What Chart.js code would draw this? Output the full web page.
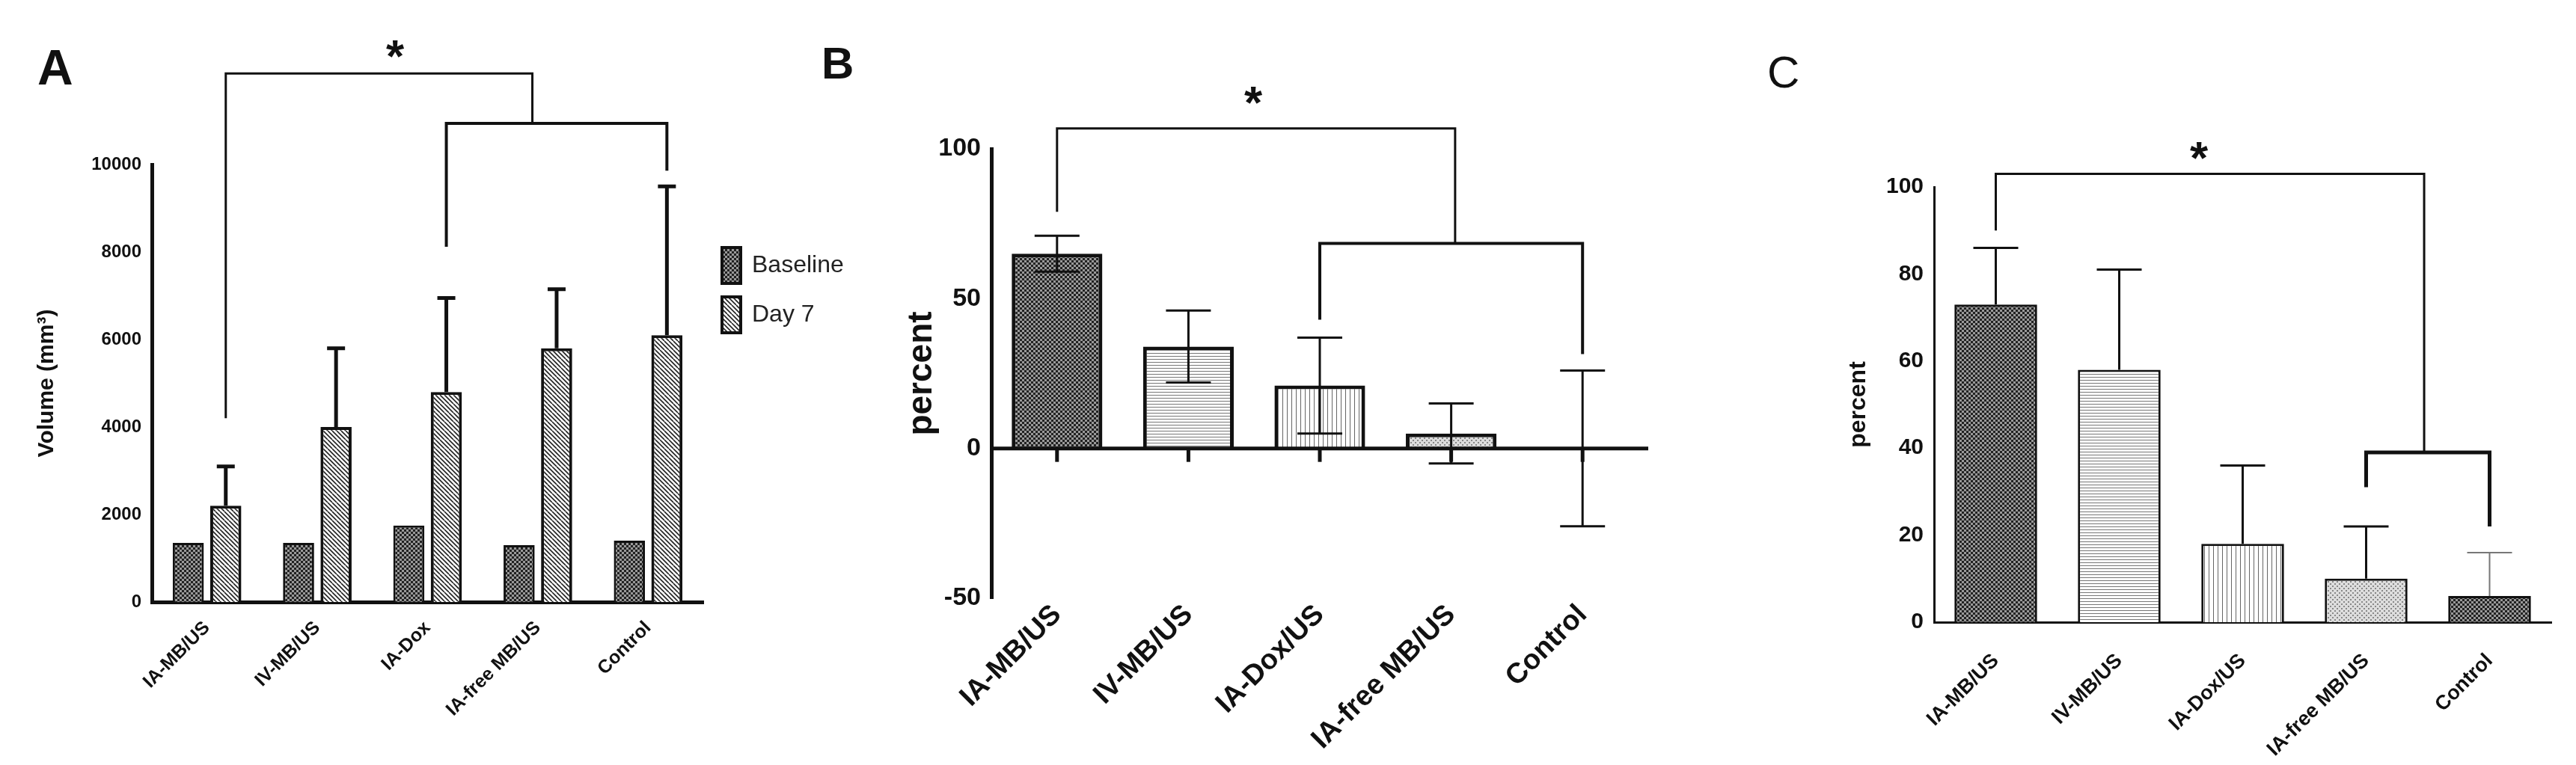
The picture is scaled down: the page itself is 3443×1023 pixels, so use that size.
<!DOCTYPE html>
<html>
<head>
<meta charset="utf-8">
<script src="https://cdn.jsdelivr.net/npm/chart.js@4"></script>
<style>
  body { margin: 0; background: #fff; width: 3443px; height: 1023px; position: relative; overflow: hidden; font-family: "Liberation Sans", Arial, sans-serif; }
  .panel { position: absolute; top: 0; height: 1023px; }
  .tag { position: absolute; font-weight: bold; color: #111; }
</style>
</head>
<body>
<div class="panel" style="left:0;width:1150px"><canvas id="chartA"></canvas></div>
<div class="panel" style="left:1150px;width:1100px"><canvas id="chartB"></canvas></div>
<div class="panel" style="left:2250px;width:1193px"><canvas id="chartC"></canvas></div>
<div class="tag" style="left:50px;top:52px;font-size:66px">A</div>
<div class="tag" style="left:1098px;top:50px;font-size:60px">B</div>
<div class="tag" style="left:2362px;top:62px;font-size:60px;font-weight:normal">C</div>

<script>
const groups = ['IA-MB/US', 'IV-MB/US', 'IA-Dox', 'IA-free MB/US', 'Control'];
const groupsUS = ['IA-MB/US', 'IV-MB/US', 'IA-Dox/US', 'IA-free MB/US', 'Control'];

// panel A: tumour volume
const baseline = [1350, 1350, 1750, 1300, 1400];
const day7 = [2200, 4000, 4800, 5800, 6100];
const day7Upper = [3100, 5800, 6950, 7150, 9500];
const ticksA = [0, 2000, 4000, 6000, 8000, 10000];

// panel B
const percentB = [65, 34, 21, 5, 0];
const errB = [6, 12, 16, 10, 26];
const ticksB = [-50, 0, 50, 100];

// panel C
const percentC = [73, 58, 18, 10, 6];
const upperC = [86, 81, 36, 22, 16];
const ticksC = [0, 20, 40, 60, 80, 100];

const FONT = '"Liberation Sans", Arial, sans-serif';
const NARROW = '"Liberation Sans Narrow", "Liberation Sans", Arial, sans-serif';

function pat(kind) {
  const c = document.createElement('canvas');
  c.width = 12; c.height = 12;
  const g = c.getContext('2d');
  g.fillStyle = '#fff'; g.fillRect(0, 0, 12, 12);
  if (kind == 'check') {
    g.fillStyle = '#999'; g.fillRect(0, 0, 12, 12);
    g.fillStyle = '#222';
    for (let x = 0; x < 12; x += 3) for (let y = 0; y < 12; y += 3) if (((x + y) / 3) % 2 == 0) g.fillRect(x, y, 3, 3);
  } else if (kind == 'diag') {
    g.strokeStyle = '#222'; g.lineWidth = 1.6;
    for (let k = -12; k <= 24; k += 6) { g.beginPath(); g.moveTo(k, 0); g.lineTo(k + 12, 12); g.stroke(); }
  } else if (kind == 'hlines') {
    g.fillStyle = '#777';
    for (let y = 0; y < 12; y += 4) g.fillRect(0, y, 12, 1);
  } else if (kind == 'vlines') {
    g.fillStyle = '#666';
    for (let x = 0; x < 12; x += 6) g.fillRect(x, 0, 1, 12);
  } else if (kind == 'dots') {
    g.fillStyle = '#ddd'; g.fillRect(0, 0, 12, 12);
    g.fillStyle = '#888';
    for (let x = 0; x < 12; x += 3) for (let y = 0; y < 12; y += 3) if (((x + y) / 3) % 2 == 0) g.fillRect(x, y, 2, 2);
  }
  return g.createPattern(c, 'repeat');
}

// error bars + brackets, all through scales
const extras = {
  id: 'extras',
  afterDatasetsDraw(chart, args, o) {
    const ctx = chart.ctx, ys = chart.scales.y, xs = chart.scales.x;
    ctx.save();
    (o.errors || []).forEach(e => {
      const meta = chart.getDatasetMeta(e.ds);
      meta.data.forEach((bar, i) => {
        ctx.lineWidth = (e.widths ? e.widths[i] : e.width);
        ctx.strokeStyle = e.colors ? e.colors[i] : '#111';
        const hi = ys.getPixelForValue(e.hi[i]);
        const lo = ys.getPixelForValue(e.lo[i]);
        ctx.beginPath();
        ctx.moveTo(bar.x, lo); ctx.lineTo(bar.x, hi);
        ctx.moveTo(bar.x - e.cap, hi); ctx.lineTo(bar.x + e.cap, hi);
        if (e.both) { ctx.moveTo(bar.x - e.cap, lo); ctx.lineTo(bar.x + e.cap, lo); }
        ctx.stroke();
      });
    });
    ctx.strokeStyle = '#111';
    if (o.zeroLine) {
      ctx.lineWidth = o.zeroLine;
      const y0 = ys.getPixelForValue(0);
      ctx.beginPath(); ctx.moveTo(chart.chartArea.left, y0); ctx.lineTo(chart.chartArea.right, y0); ctx.stroke();
      xs.ticks.forEach((t, i) => {
        const x = xs.getPixelForTick(i);
        ctx.beginPath(); ctx.moveTo(x, y0); ctx.lineTo(x, y0 + 18); ctx.stroke();
      });
    }
    (o.brackets || []).forEach(b => {
      const px = v => typeof v == 'number' ? xs.getPixelForValue(v) : chart.getDatasetMeta(v.ds).data[v.i].x;
      const x1 = px(b.x1), x2 = px(b.x2), y = ys.getPixelForValue(b.y);
      ctx.lineWidth = b.width;
      ctx.beginPath();
      ctx.moveTo(x1, ys.getPixelForValue(b.d1)); ctx.lineTo(x1, y);
      ctx.lineTo(x2, y); ctx.lineTo(x2, ys.getPixelForValue(b.d2));
      ctx.stroke();
    });
    if (o.star) {
      ctx.fillStyle = '#111';
      ctx.font = 'bold ' + o.star.size + 'px ' + FONT;
      ctx.textAlign = 'center';
      ctx.fillText('*', o.star.x, o.star.y);
    }
    (o.legend || []).forEach(l => {
      ctx.fillStyle = l.fill; ctx.fillRect(l.x, l.y, 25, 48);
      ctx.lineWidth = 4; ctx.strokeStyle = '#111'; ctx.strokeRect(l.x, l.y, 25, 48);
      ctx.fillStyle = '#222'; ctx.font = '32px ' + FONT; ctx.textAlign = 'left'; ctx.textBaseline = 'middle';
      ctx.fillText(l.text, l.x + 40, l.y + 24);
    });
    ctx.restore();
  }
};

function fixed(w) { return function (s) { s.width = w; }; }
function fixedH(h) { return function (s) { s.height = h; }; }

function build(id, cfg) {
  const el = document.getElementById(id);
  return new Chart(el, {
    type: 'bar',
    data: { labels: cfg.labels, datasets: cfg.datasets },
    plugins: [extras],
    options: {
      responsive: true, maintainAspectRatio: false, animation: false,
      layout: { padding: cfg.padding },
      plugins: { legend: { display: false }, tooltip: { enabled: false }, extras: cfg.extras },
      scales: {
        x: {
          afterFit: fixedH(cfg.xh),
          grid: { display: false, drawTicks: true, tickLength: cfg.xTick, tickWidth: 3, tickColor: '#111' },
          border: { display: !cfg.extras.zeroLine, color: '#111', width: cfg.border },
          ticks: { color: '#111', minRotation: 45, maxRotation: 45, autoSkip: false, padding: cfg.xPad,
                   font: { family: FONT, weight: 'bold', size: cfg.xFont } }
        },
        y: {
          min: cfg.ticks[0], max: cfg.ticks[cfg.ticks.length - 1],
          afterFit: fixed(cfg.yw),
          afterBuildTicks: s => { s.ticks = cfg.ticks.map(v => ({ value: v })); },
          grid: { display: false, drawTicks: true, tickLength: 10, tickWidth: 3, tickColor: '#111' },
          border: { color: '#111', width: cfg.border },
          ticks: { color: '#111', padding: 4, callback: v => String(v),
                   font: { family: NARROW, weight: 'bold', size: cfg.yFont } },
          title: { display: true, text: cfg.yTitle, color: '#111', padding: 0,
                   font: { family: FONT, weight: 'bold', size: cfg.titleFont } }
        }
      }
    }
  });
}

build('chartA', {
  labels: groups, padding: { top: 220, right: 210, left: 45 }, yw: 158, xh: 218, xTick: 14, xPad: 6,
  ticks: ticksA, border: 5, xFont: 25, yFont: 24, yTitle: 'Volume (mm³)', titleFont: 30,
  datasets: [
    { data: baseline, backgroundColor: pat('check'), borderColor: '#111', borderWidth: 3, categoryPercentage: 0.68, barPercentage: 0.83 },
    { data: day7, backgroundColor: pat('diag'), borderColor: '#111', borderWidth: 4, categoryPercentage: 0.68, barPercentage: 0.83 }
  ],
  extras: {
    errors: [{ ds: 1, hi: day7Upper, lo: day7, width: 5, cap: 12 }],
    brackets: [
      { x1: { ds: 1, i: 0 }, x2: 2.95, y: 12080, d1: 4200, d2: 10940, width: 3 },
      { x1: { ds: 1, i: 2 }, x2: { ds: 1, i: 4 }, y: 10940, d1: 8120, d2: 9860, width: 4 }
    ],
    star: { x: 528, y: 96, size: 62 },
    legend: [{ x: 965, y: 331, fill: pat('check'), text: 'Baseline' }, { x: 965, y: 397, fill: pat('diag'), text: 'Day 7' }]
  }
});

build('chartB', {
  labels: groupsUS, padding: { top: 199, right: 47, left: 55 }, yw: 120, xh: 223, xTick: 0, xPad: 0,
  ticks: ticksB, border: 5, xFont: 38, yFont: 34, yTitle: 'percent', titleFont: 46,
  datasets: [{
    data: percentB,
    backgroundColor: [pat('check'), pat('hlines'), pat('vlines'), pat('dots'), '#fff'],
    borderColor: '#111', borderWidth: [5, 5, 5, 5, 0], categoryPercentage: 1, barPercentage: 0.69
  }],
  extras: {
    zeroLine: 5,
    errors: [{ ds: 0, hi: percentB.map((v, i) => v + errB[i]), lo: percentB.map((v, i) => v - errB[i]), width: 3, cap: 30, both: true }],
    brackets: [
      { x1: 0, x2: 3.03, y: 106.8, d1: 79, d2: 68.4, width: 3 },
      { x1: 2, x2: 4, y: 68.4, d1: 43, d2: 31.5, width: 4 }
    ],
    star: { x: 525, y: 158, size: 62 }
  }
});

build('chartC', {
  labels: groupsUS, padding: { top: 250, right: 33, left: 215 }, yw: 120, xh: 191, xTick: 14, xPad: 22,
  ticks: ticksC, border: 3, xFont: 27, yFont: 30, yTitle: 'percent', titleFont: 32,
  datasets: [{
    data: percentC,
    backgroundColor: [pat('check'), pat('hlines'), pat('vlines'), pat('dots'), pat('check')],
    borderColor: '#111', borderWidth: 3, categoryPercentage: 1, barPercentage: 0.67
  }],
  extras: {
    errors: [{ ds: 0, hi: upperC, lo: percentC, widths: [3, 3, 3, 3, 2], colors: ['#111', '#111', '#111', '#111', '#777'], cap: 30 }],
    brackets: [
      { x1: 0, x2: 3.47, y: 103, d1: 90, d2: 39, width: 3 },
      { x1: 3, x2: 4, y: 39, d1: 31, d2: 22, width: 5 }
    ],
    star: { x: 689, y: 232, size: 62 }
  }
});
</script>
</body>
</html>
